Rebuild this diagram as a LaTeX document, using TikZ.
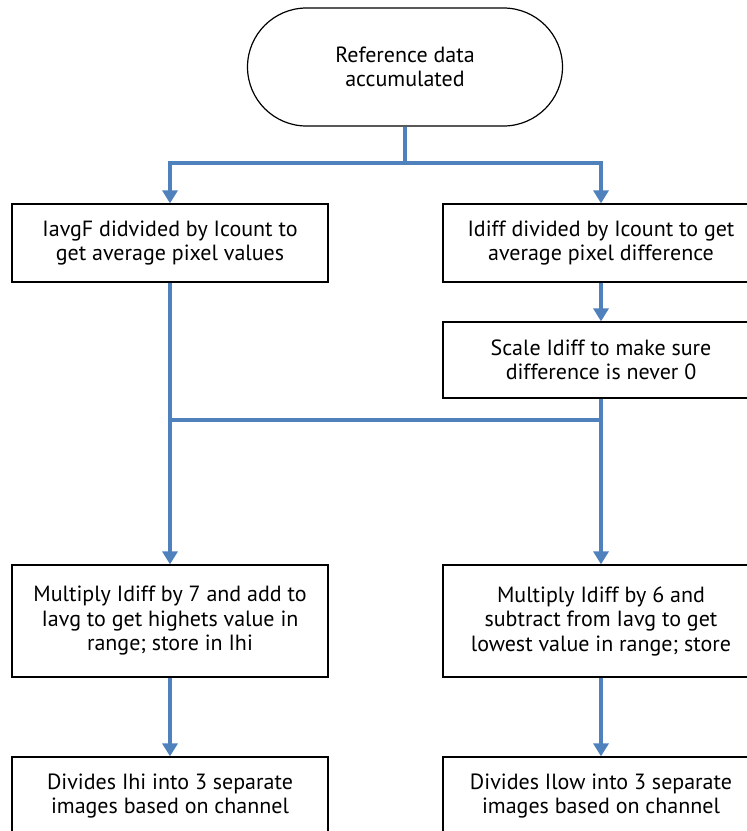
\documentclass[tikz,border=0pt]{standalone}
\usepackage{fontspec}
\setmainfont{PT Sans}
\usetikzlibrary{arrows.meta}
\definecolor{flowblue}{HTML}{4F81BD}
\begin{document}
\begin{tikzpicture}[x=1pt,y=-1pt,
  every node/.style={font=\fontsize{22}{24.5}\selectfont, align=center, inner sep=0pt},
  procbox/.style={draw=black, line width=1.3pt, fill=white, minimum width=316pt},
  termbox/.style={draw=black, line width=1.2pt, fill=white, rounded corners=59pt,
    minimum width=315pt, minimum height=118pt},
  flow/.style={draw=flowblue, line width=4pt},
  flowarr/.style={flow, -{Triangle[width=15pt,length=13pt]}}]
  \useasboundingbox (0,0) rectangle (747,831);
  \clip (0,0) rectangle (747,831);
  \fill[white] (0,0) rectangle (747,831);

  % steps of the flow
  \node[termbox] (start) at (405,67) {Reference data\\accumulated};
  \node[procbox, minimum height=78pt] (avg) at (170,243)
    {IavgF didvided by Icount to\\get average pixel values};
  \node[procbox, minimum height=78pt] (diff) at (601,243)
    {Idiff divided by Icount to get\\average pixel difference};
  \node[procbox, minimum height=76pt] (scale) at (601,360)
    {Scale Idiff to make sure\\difference is never 0};
  \node[procbox, minimum height=112pt] (hi) at (170,621)
    {Multiply Idiff by 7 and add to\\Iavg to get highets value in\\range; store in Ihi};
  \node[procbox, minimum height=112pt] (low) at (601,621)
    {Multiply Idiff by 6 and\\subtract from Iavg to get\\lowest value in range; store};
  \node[procbox, minimum height=78pt] (hisplit) at (170,796)
    {Divides Ihi into 3 separate\\images based on channel};
  \node[procbox, minimum height=78pt] (lowsplit) at (601,796)
    {Divides Ilow into 3 separate\\images based on channel};

  % junction points
  \coordinate (fork) at (405,163);
  \coordinate (merge) at (385,420);

  % connectors
  \draw[flow] (start.south) -- (fork);
  \draw[flowarr] (fork) -| (avg.north);
  \draw[flowarr] (fork) -| (diff.north);
  \draw[flowarr] (diff.south) -- (scale.north);
  \draw[flow] (avg.south |- merge) -- (scale.south |- merge);
  \draw[flowarr] (avg.south) -- (hi.north);
  \draw[flowarr] (scale.south) -- (low.north);
  \draw[flowarr] (hi.south) -- (hisplit.north);
  \draw[flowarr] (low.south) -- (lowsplit.north);
\end{tikzpicture}
\end{document}
